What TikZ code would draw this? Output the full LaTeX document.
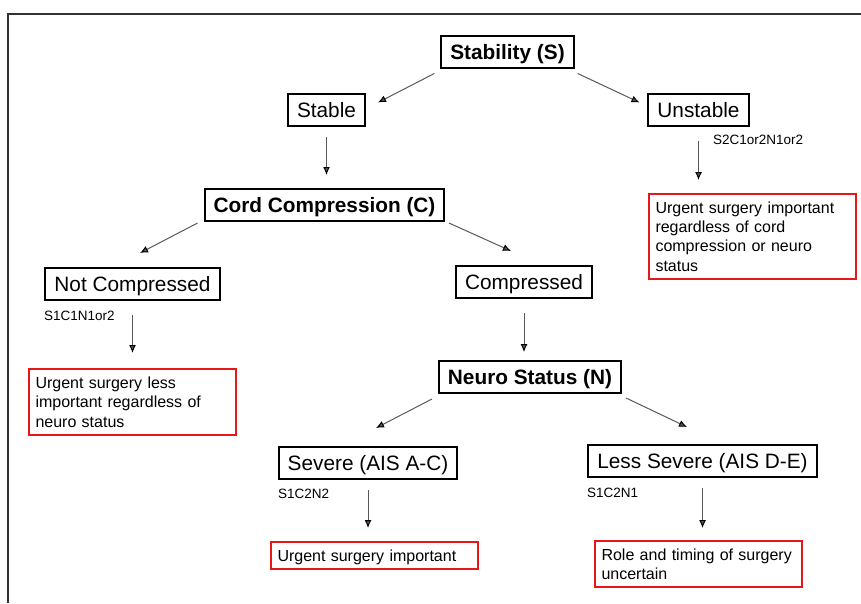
\documentclass[tikz,border=0pt]{standalone}
\usepackage{fontspec}
\setmainfont{Liberation Sans}
\usetikzlibrary{calc,arrows.meta}
\definecolor{boxred}{RGB}{232,22,22}
\tikzset{>={Latex[length=8pt,width=7pt,color=black]}}

\begin{document}
\begin{tikzpicture}[x=1pt,y=-1pt]
	\tikzstyle{choice} = [draw=black, line width=2pt, inner xsep=9pt, inner ysep=0pt, minimum height=32pt, text height=15pt, text depth=0pt, font=\fontsize{20.8}{25}\selectfont]
	\tikzstyle{factor} = [choice, font=\fontsize{20.8}{25}\selectfont\bfseries]
	\tikzstyle{outcome} = [draw=boxred, line width=2pt, inner xsep=7pt, inner ysep=0pt, text width=193pt, align=left, font=\fontsize{16}{19.3}\selectfont]
	\tikzstyle{caselabel} = [anchor=base west, inner sep=0pt, font=\fontsize{13.5}{16}\selectfont]
	\tikzstyle{branch} = [->, black!65, line width=1pt]

	\useasboundingbox (0,0) rectangle (861,603);
	\draw[line width=1.2pt, black!80] (8,603) -- (8,14) -- (861,14);

%----------Stability------------------------------------------
	\node[factor] (stab) at (507.5,51.5) {Stability (S)};
	\node[choice] (stable) at (326.5,109.5) {Stable};
	\node[choice] (unstable) at (698.5,109.5) {Unstable};

	\path[branch] ($(stab.south west)+(-6,5)$) edge ($(stable.north east)+(12,10)$);
	\path[branch] ($(stab.south east)+(3,5)$) edge ($(unstable.north west)+(-8,10)$);

	\node[caselabel] (lunst) at (713,144) {S2C1or2N1or2};
	\node[outcome, minimum height=85pt] (runst) at (752,236.5) {Urgent surgery important\\ regardless of cord\\ compression or neuro\\ status};
	\path[branch] ($(unstable.south)+(0,14.5)$) edge ($(unstable.south |- runst.north)+(0,-13)$);

%----------Cord compression-----------------------------------
	\node[factor] (cord) at (324.5,205) {Cord Compression (C)};
	\path[branch] ($(stable.south)+(0,10.5)$) edge ($(stable.south |- cord.north)+(0,-13)$);

	\node[choice] (notcomp) at (132.5,283.5) {Not Compressed};
	\node[choice] (comp) at (524,282) {Compressed};

	\path[branch] ($(cord.south west)+(-6,1)$) edge ($(notcomp.north)+(7.5,-13.5)$);
	\path[branch] ($(cord.south east)+(3.5,1)$) edge ($(comp.north)+(-13,-14)$);

	\node[caselabel] (lnotc) at (44,320) {S1C1N1or2};
	\node[outcome, minimum height=66pt] (rnotc) at (132,402) {Urgent surgery less\\ important regardless of\\ neuro status};
	\path[branch] ($(notcomp.south)+(0,14.5)$) edge ($(notcomp.south |- rnotc.north)+(0,-15)$);

%----------Neuro status---------------------------------------
	\node[factor] (neuro) at (530,377) {Neuro Status (N)};
	\path[branch] ($(comp.south)+(0,14)$) edge ($(comp.south |- neuro.north)+(0,-8)$);

	\node[choice] (severe) at (368,462.5) {Severe (AIS A-C)};
	\node[choice] (lesssev) at (702.5,460.5) {Less Severe (AIS D-E)};

	\path[branch] ($(neuro.south west)+(-6,5)$) edge ($(severe.north)+(8,-17.5)$);
	\path[branch] ($(neuro.south east)+(4,4)$) edge ($(lesssev.north)+(-15.5,-16.5)$);

	\node[caselabel] (lsev) at (278,498.5) {S1C2N2};
	\node[caselabel] (lless) at (587,497.5) {S1C2N1};

	\node[outcome, minimum height=27pt, text depth=0pt] (rsev) at (374,555.5) {Urgent surgery important};
	\node[outcome, minimum height=46pt] (rless) at (698,564) {Role and timing of surgery\\ uncertain};

	\path[branch] ($(severe.south)+(0,10.5)$) edge ($(severe.south |- rsev.north)+(0,-13)$);
	\path[branch] ($(lesssev.south)+(0,10.5)$) edge ($(lesssev.south |- rless.north)+(0,-12)$);
\end{tikzpicture}
\end{document}
